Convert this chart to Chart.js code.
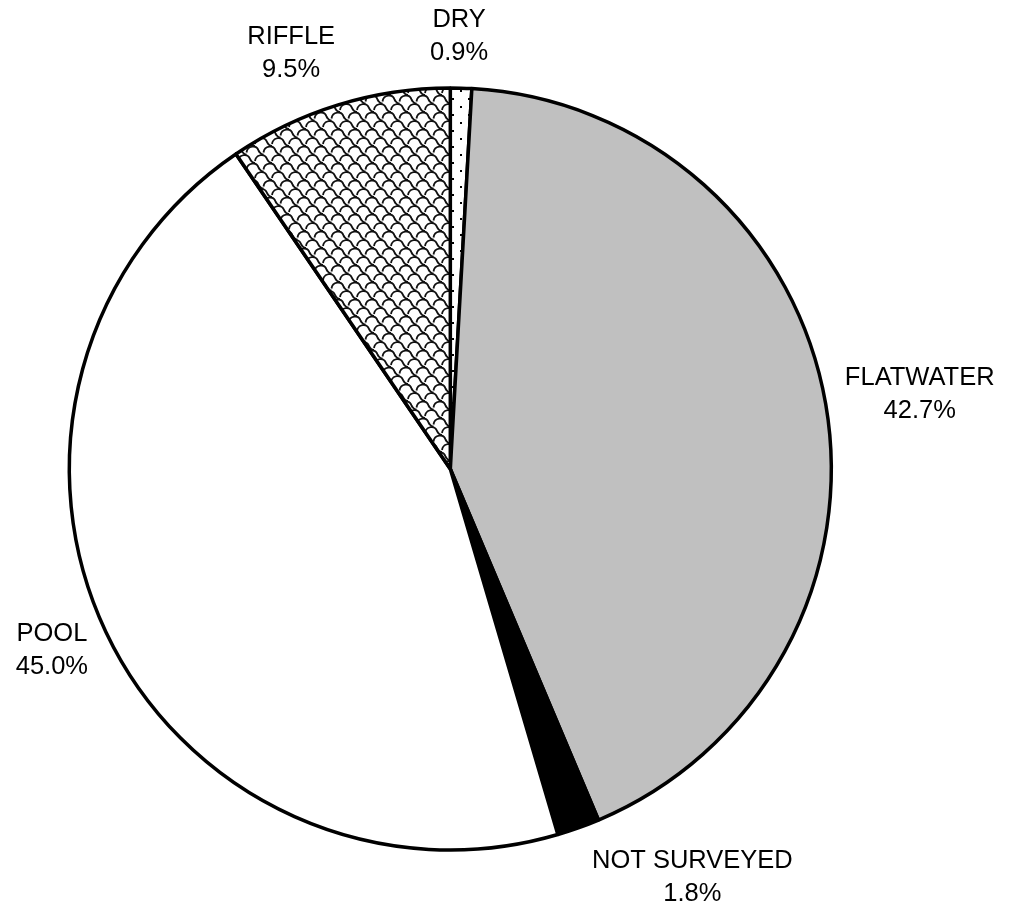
<!DOCTYPE html>
<html>
<head>
<meta charset="utf-8">
<title>Habitat Types</title>
<script src="https://cdn.jsdelivr.net/npm/chart.js@4"></script>
<style>
    body { margin: 0; background: #fff; }
    #wrap { width: 1009px; height: 908px; position: relative; }
</style>
</head>
<body>
<div id="wrap"><canvas id="myChart"></canvas></div>
<script>
// habitat types, clockwise from 12 o'clock
const habitats = ["DRY", "FLATWATER", "NOT SURVEYED", "POOL", "RIFFLE"]
const percents = [0.9, 42.7, 1.8, 45.0, 9.5]

// label nudges from the middle of each slice's rim (px)
const labelShift = [[-2, -52], [94, -10], [114, 50], [-54, 19], [-47, -51]]

// sparse staggered dots for the DRY slice
function dotPattern(){
    const c = document.createElement("canvas")
    c.width = 16
    c.height = 16
    const g = c.getContext("2d")
    g.fillStyle = "#fff"
    g.fillRect(0, 0, 16, 16)
    g.fillStyle = "#000"
    g.fillRect(4, 2, 2, 2)
    g.fillRect(12, 10, 2, 2)
    return g.createPattern(c, "repeat")
}

// tilted fish-scale pattern for the RIFFLE slice
function shinglePattern(){
    const s = 17
    const c = document.createElement("canvas")
    c.width = s
    c.height = s
    const g = c.getContext("2d")
    g.fillStyle = "#fff"
    g.fillRect(0, 0, s, s)
    g.strokeStyle = "#111"
    g.lineWidth = 1.8
    const scale = (ox, oy) => {
        g.beginPath()
        g.moveTo(ox, oy + 6)
        g.bezierCurveTo(ox + 1, oy - 1, ox + 10, oy - 2, ox + 12, oy + 4)
        g.quadraticCurveTo(ox + 14, oy + 8, ox + 17, oy + 8)
        g.stroke()
    }
    for (let dx = -s; dx <= s; dx += s) {
        for (let dy = -s; dy <= s; dy += s) {
            scale(dx, dy + 2)
            scale(dx + s / 2, dy + 2 + s / 2)
        }
    }
    return g.createPattern(c, "repeat")
}

// two-line text outside each slice
const sliceLabels = {
    id: "sliceLabels",
    afterDraw(chart){
        const ctx = chart.ctx
        const meta = chart.getDatasetMeta(0)
        ctx.save()
        ctx.font = "25.5px 'Liberation Sans', Arial, sans-serif"
        ctx.fillStyle = "#000"
        ctx.textAlign = "center"
        ctx.textBaseline = "middle"
        meta.data.forEach((arc, i) => {
            const mid = (arc.startAngle + arc.endAngle) / 2
            const x = arc.x + arc.outerRadius * Math.cos(mid) + labelShift[i][0]
            const y = arc.y + arc.outerRadius * Math.sin(mid) + labelShift[i][1]
            ctx.fillText(habitats[i], x, y - 16.5)
            ctx.fillText(percents[i].toFixed(1) + "%", x, y + 16.5)
        })
        ctx.restore()
    }
}

function createChart(){
    const ctx = document.getElementById("myChart")
    new Chart(ctx, {
        type: "pie",
        data: {
            labels: habitats,
            datasets: [{
                data: percents,
                backgroundColor: [dotPattern(), "#c0c0c0", "#000000", "#ffffff", shinglePattern()],
                borderColor: "#000",
                borderWidth: 3.5,
                hoverOffset: 0,
            }]
        },
        options: {
            responsive: true,
            maintainAspectRatio: false,
            animation: false,
            events: [],
            radius: 381,
            layout: {
                padding: { left: 0, right: 108.4, top: 30, bottom: 0 }
            },
            plugins: {
                legend: { display: false },
                tooltip: { enabled: false },
            }
        },
        plugins: [sliceLabels],
    })
}
createChart()
</script>
</body>
</html>
